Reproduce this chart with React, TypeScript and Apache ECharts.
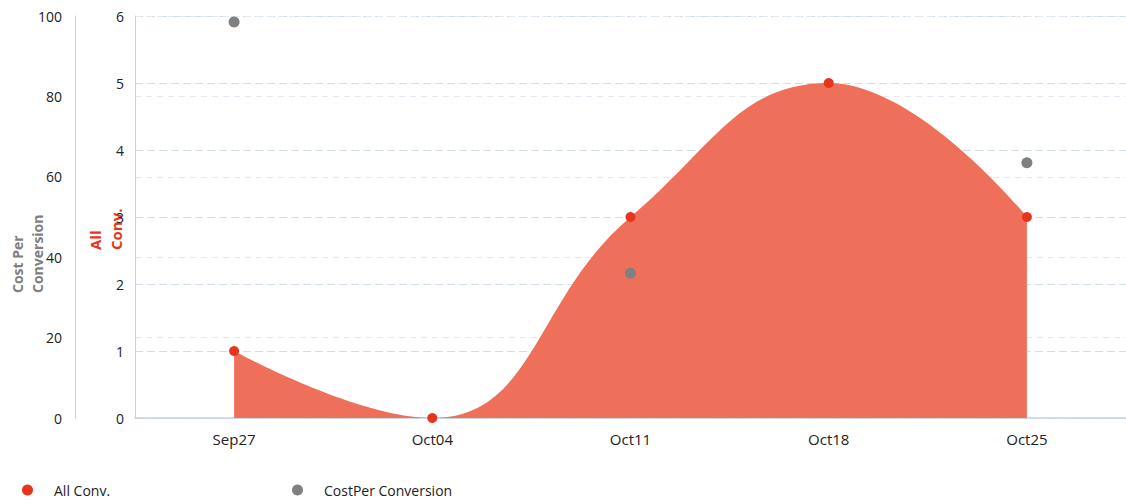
import React, { useEffect, useRef } from "react";
import * as echarts from "echarts";

const categories = ["Sep27", "Oct04", "Oct11", "Oct18", "Oct25"];
const allConv = [1, 0, 3, 5, 3];
const costPerConversion: (number | null)[] = [98.5, null, 36, null, 63.5];
const convTicks = { min: 0, max: 6, interval: 1 };
const costTicks = { min: 0, max: 100, interval: 20 };
const convAxisName = "All\nConv.";
const costAxisName = "Cost Per\nConversion";

const FONT = "'Open Sans', 'Noto Sans', sans-serif";
const GRID_COLOR = "#d3dde9";

export default function App() {
  const ref = useRef<HTMLDivElement>(null);
  useEffect(() => {
    if (!ref.current) return;
    const chart = echarts.init(ref.current, null, { renderer: "svg" });
    chart.setOption({
      animation: false,
      textStyle: { fontFamily: FONT },
      grid: { left: 135, right: 0, top: 16, bottom: 85, containLabel: false, outerBoundsMode: "none" },
      graphic: [
        {
          type: "text",
          x: 105,
          y: 250,
          rotation: Math.PI / 2,
          style: {
            text: convAxisName,
            fill: "#e8341a",
            font: `bold 15px ${FONT}`,
            lineHeight: 21,
            align: "left",
            verticalAlign: "middle",
          },
        },
        {
          type: "text",
          x: 27,
          y: 293,
          rotation: Math.PI / 2,
          style: {
            text: costAxisName,
            fill: "#7f7f7f",
            font: `bold 14px ${FONT}`,
            lineHeight: 20,
            align: "left",
            verticalAlign: "middle",
          },
        },
      ],
      legend: [
        {
          data: [{ name: "All Conv.", icon: "circle" }],
          left: 17,
          bottom: 1,
          itemWidth: 11,
          itemHeight: 11,
          textStyle: { fontFamily: FONT, fontSize: 14, color: "#222", padding: [0, 0, 0, 16] },
        },
        {
          data: [{ name: "CostPer Conversion", icon: "circle" }],
          left: 287,
          bottom: 1,
          itemWidth: 11,
          itemHeight: 11,
          textStyle: { fontFamily: FONT, fontSize: 14, color: "#222", padding: [0, 0, 0, 16] },
        },
      ],
      xAxis: {
        type: "category",
        data: categories,
        boundaryGap: true,
        axisLine: { lineStyle: { color: "#c3d2e2", width: 1.5 } },
        axisTick: { alignWithLabel: true, lineStyle: { color: "#c3d2e2" }, length: 5 },
        axisLabel: { color: "#222", fontSize: 15, margin: 13, fontFamily: FONT },
        splitLine: { show: false },
      },
      yAxis: [
        {
          type: "value",
          position: "left",
          ...convTicks,
          axisLine: { show: true, lineStyle: { color: "#c3d2e2" } },
          axisTick: { show: false },
          axisLabel: { color: "#222", fontSize: 14, margin: 11, fontFamily: FONT },
          splitLine: { show: true, lineStyle: { color: GRID_COLOR, type: [8, 4], width: 1.2 } },
        },
        {
          type: "value",
          position: "left",
          offset: 60,
          ...costTicks,
          axisLine: { show: true, lineStyle: { color: "#c3d2e2" } },
          axisTick: { show: false },
          axisLabel: { color: "#222", fontSize: 14, margin: 13, fontFamily: FONT },
          splitLine: { show: true, lineStyle: { color: "#e3e9f0", type: [6, 5], width: 1.2 } },
        },
      ],
      series: [
        {
          name: "All Conv.",
          type: "line",
          yAxisIndex: 0,
          data: allConv,
          smooth: 0.45,
          symbol: "circle",
          symbolSize: 10,
          itemStyle: { color: "#e8341a" },
          lineStyle: { width: 0, color: "#ee705a" },
          areaStyle: { color: "#ee705a", opacity: 1 },
          z: 2,
        },
        {
          name: "CostPer Conversion",
          type: "line",
          yAxisIndex: 1,
          data: costPerConversion,
          symbol: "circle",
          symbolSize: 11,
          itemStyle: { color: "#808080" },
          lineStyle: { width: 0 },
          connectNulls: false,
          z: 3,
        },
      ],
    });
    return () => chart.dispose();
  }, []);
  return <div ref={ref} style={{ width: 1126, height: 503, position: "absolute", left: 0, top: 0 }} />;
}
